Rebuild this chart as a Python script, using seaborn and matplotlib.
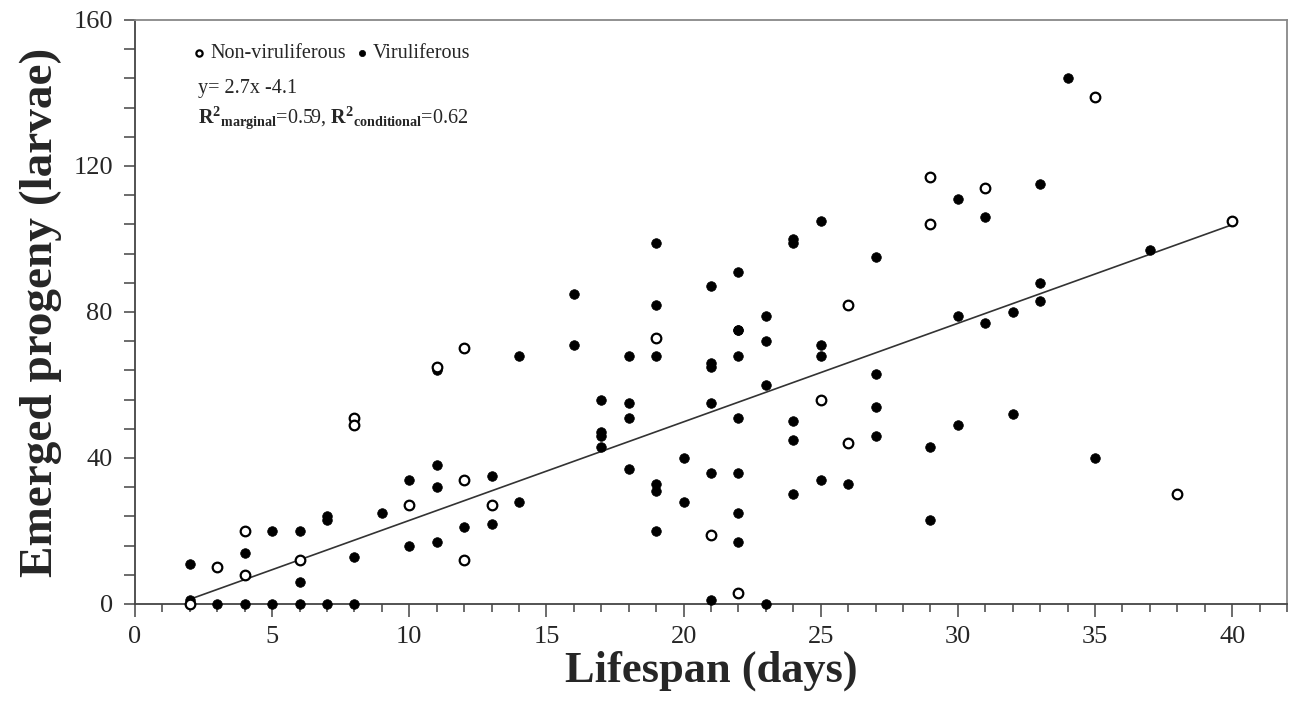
import numpy as np
import matplotlib
matplotlib.use("Agg")
import matplotlib.pyplot as plt
from matplotlib.ticker import MultipleLocator
import seaborn as sns

# Non-viruliferous (open circles)
non_x = [2, 3, 4, 4, 6, 8, 8, 10, 11, 12, 12, 12, 13, 19, 21, 22, 25, 26, 26,
         29, 29, 31, 35, 38, 40]
non_y = [0, 10, 20, 8, 12, 51, 49, 27, 65, 70, 34, 12, 27, 73, 19, 3, 56, 82, 44,
         117, 104, 114, 139, 30, 105]

# Viruliferous (filled circles)
vir_x = [2, 2, 3, 4, 4, 5, 5, 6, 6, 6, 7, 7, 7, 8, 8, 9, 10, 10,
         11, 11, 11, 11, 12, 13, 13, 14, 14, 16, 16,
         17, 17, 17, 17, 18, 18, 18, 18,
         19, 19, 19, 19, 19, 19, 20, 20,
         21, 21, 21, 21, 21, 21,
         22, 22, 22, 22, 22, 22, 22, 22,
         23, 23, 23, 23, 24, 24, 24, 24, 24,
         25, 25, 25, 25, 26, 27, 27, 27, 27,
         29, 29, 30, 30, 30, 31, 31, 32, 32, 33, 33, 33, 34, 35, 37]
vir_y = [11, 1, 0, 14, 0, 20, 0, 20, 6, 0, 24, 23, 0, 13, 0, 25, 34, 16,
         64, 38, 32, 17, 21, 35, 22, 68, 28, 85, 71,
         56, 47, 46, 43, 68, 55, 51, 37,
         99, 82, 68, 33, 31, 20, 40, 28,
         87, 66, 65, 55, 36, 1,
         91, 75, 75, 68, 51, 36, 25, 17,
         79, 72, 60, 0, 100, 99, 50, 45, 30,
         105, 71, 68, 34, 33, 95, 63, 54, 46,
         43, 23, 111, 79, 49, 106, 77, 80, 52, 115, 88, 83, 144, 40, 97]

# fitted model from the figure
slope, intercept = 2.7, -4.1

sns.set_style("ticks")
plt.rcParams["font.family"] = ["Liberation Serif", "DejaVu Serif"]
plt.rcParams["mathtext.fontset"] = "custom"
plt.rcParams["mathtext.rm"] = "Liberation Serif"
plt.rcParams["mathtext.bf"] = "Liberation Serif:bold"
plt.rcParams["mathtext.it"] = "Liberation Serif:italic"

fig = plt.figure(figsize=(12.91, 7.08), dpi=100)
ax = fig.add_axes([0.1046, 0.1469, 0.8923, 0.8249])

# regression line over the observed lifespan range
all_x = np.array(non_x + vir_x)
xs = np.array([all_x.min(), all_x.max()])
ax.plot(xs, slope * xs + intercept, color="#333333", lw=1.2, zorder=2)

sns.scatterplot(x=non_x, y=non_y, ax=ax, color="white", edgecolor="black",
                linewidth=1.6, s=48, label="Non-viruliferous", zorder=4, clip_on=False)
sns.scatterplot(x=vir_x, y=vir_y, ax=ax, color="black", edgecolor="black",
                linewidth=0.5, s=48, label="Viruliferous", zorder=3, clip_on=False)

ax.set_xlim(0, 42)
ax.set_ylim(0, 160)
ax.xaxis.set_major_locator(MultipleLocator(5))
ax.xaxis.set_minor_locator(MultipleLocator(1))
ax.yaxis.set_major_locator(MultipleLocator(40))
ax.yaxis.set_minor_locator(MultipleLocator(8))
ax.tick_params(axis="x", which="major", length=9, width=1.1, color="#444444",
               labelsize=19, pad=7)
ax.tick_params(axis="x", which="minor", length=6, width=1.1, color="#444444")
ax.tick_params(axis="y", which="major", length=8, width=1.1, color="#444444",
               labelsize=19, pad=8)
ax.tick_params(axis="y", which="minor", length=8, width=1.1, color="#444444")
for side in ["left", "bottom"]:
    ax.spines[side].set_color("#444444")
    ax.spines[side].set_linewidth(1.3)
for side in ["top", "right"]:
    ax.spines[side].set_color("#888888")
    ax.spines[side].set_linewidth(1.3)

ax.set_xlabel("Lifespan (days)", fontsize=32, fontweight="bold", labelpad=2)
ax.set_ylabel("Emerged progeny (larvae)", fontsize=34, fontweight="bold", labelpad=8)

ax.legend(loc="center left", bbox_to_anchor=(0.04, 0.942), ncol=2, frameon=False,
          fontsize=14.5, markerscale=0.65, handletextpad=0.05, columnspacing=0.3,
          handlelength=1.0, borderaxespad=0)

ax.text(0.055, 0.882, "y= 2.7x -4.1", transform=ax.transAxes, fontsize=14.5, va="center")
ax.text(0.055, 0.833,
        r"$\mathbf{R^2}_{\mathbf{marginal}}$=0.59, $\mathbf{R^2}_{\mathbf{conditional}}$=0.62",
        transform=ax.transAxes, fontsize=14.5, va="center")

fig.savefig("out.png", dpi=100)
